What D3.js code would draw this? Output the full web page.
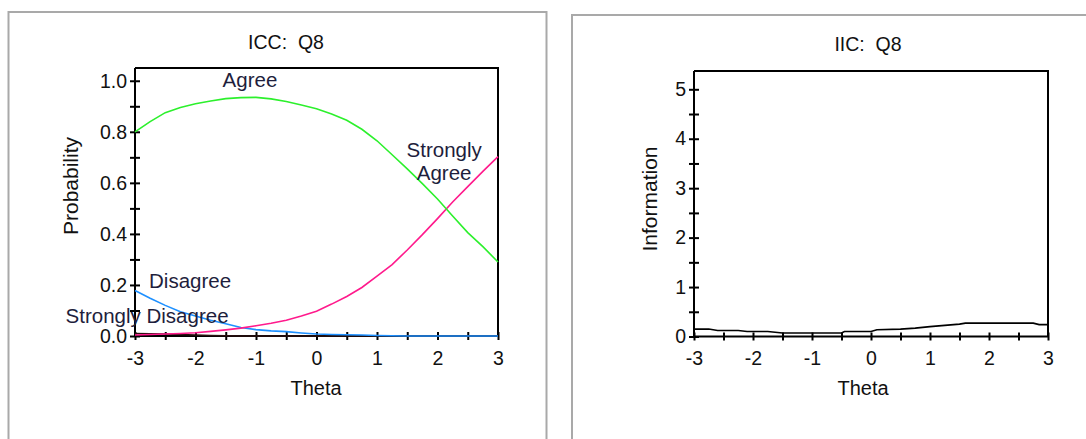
<!DOCTYPE html>
<html lang="en">
<head>
  <meta charset="UTF-8">
  <title>ICC / IIC: Q8</title>
  <script src="https://d3js.org/d3.v7.min.js"></script>
  <style>
    body {
      margin: 0;
      padding: 0;
      background: #fff;
    }
    svg text { font-family: 'Liberation Sans', Arial, sans-serif; }
    .axis path, .axis line { stroke: #000; stroke-width: 2px; }
    .curve-label { font-size: 20.5px; fill: #1e1e3c; }
    .title { font-size: 19.5px; fill: #111; white-space: pre; }
    .xlab { font-size: 20px; fill: #111; }
    .ylab { font-size: 21px; fill: #111; }
  </style>
</head>
<body>
  <div id="chart"></div>

  <script>
    // theta grid for the ICC curves
    const theta = [-3, -2.75, -2.5, -2.25, -2, -1.75, -1.5, -1.25, -1, -0.75, -0.5, -0.25,
                   0, 0.25, 0.5, 0.75, 1, 1.25, 1.5, 1.75, 2, 2.25, 2.5, 2.75, 3];

    const agree = [0.80, 0.84, 0.875, 0.895, 0.91, 0.921, 0.93, 0.934, 0.935, 0.929, 0.919, 0.905,
                   0.89, 0.87, 0.845, 0.81, 0.765, 0.71, 0.655, 0.597, 0.537, 0.47, 0.405, 0.35, 0.29];
    const stronglyAgree = [0.004, 0.006, 0.008, 0.01, 0.013, 0.018, 0.024, 0.031, 0.04, 0.05, 0.062, 0.078,
                   0.097, 0.125, 0.155, 0.19, 0.235, 0.28, 0.337, 0.397, 0.46, 0.525, 0.585, 0.645, 0.703];
    const disagree = [0.178, 0.148, 0.12, 0.095, 0.078, 0.062, 0.048, 0.033, 0.025, 0.02, 0.017, 0.012,
                   0.008, 0.006, 0.005, 0.004, 0.002, 0.001, 0, 0, 0, 0, 0, 0, 0];
    const stronglyDisagree = [0.01, 0.009, 0.008, 0.006, 0.004, 0.002, 0.001, 0, 0, 0, 0, 0,
                   0, 0, 0, 0, 0, 0, 0, 0, 0, 0, 0, 0, 0];

    // item information curve
    const iicTheta = [-3, -2.75, -2.6, -2.25, -2.1, -1.75, -1.5, -1, -0.5, -0.45, 0, 0.1, 0.5, 0.75,
                      1, 1.2, 1.5, 1.6, 2, 2.5, 2.75, 2.85, 3];
    const information = [0.15, 0.15, 0.12, 0.12, 0.1, 0.1, 0.07, 0.07, 0.07, 0.1, 0.1, 0.135, 0.15, 0.17,
                      0.2, 0.22, 0.25, 0.27, 0.27, 0.27, 0.27, 0.24, 0.24];

    const xTicks = [-3, -2, -1, 0, 1, 2, 3];
    const xMinor = [-2.5, -1.5, -0.5, 0.5, 1.5, 2.5];
    const iccTicks = [0, 0.2, 0.4, 0.6, 0.8, 1.0];
    const iccMinor = [0.1, 0.3, 0.5, 0.7, 0.9];
    const iicTicks = [0, 1, 2, 3, 4, 5];
    const iicMinor = [0.5, 1.5, 2.5, 3.5, 4.5];

    const W = 1086, H = 439;
    const svg = d3.select("#chart").append("svg")
      .attr("width", W).attr("height", H);

    // panel frames
    svg.append("rect").attr("x", 8.5).attr("y", 12).attr("width", 538).attr("height", 440)
      .attr("fill", "none").attr("stroke", "#a9a9a9").attr("stroke-width", 2);
    svg.append("rect").attr("x", 572).attr("y", 15).attr("width", 540).attr("height", 440)
      .attr("fill", "none").attr("stroke", "#a9a9a9").attr("stroke-width", 2);

    function drawAxes(g, x, y, yTicks, yMinor, yFmt) {
      const xAxis = g.append("g").attr("class", "axis")
        .attr("transform", `translate(0,${y.range()[0]})`)
        .call(d3.axisBottom(x).tickValues(xTicks.concat(xMinor)).tickSize(4).tickPadding(11)
          .tickFormat(d => xTicks.includes(d) ? d3.format("d")(d).replace("−", "-") : ""));
      xAxis.selectAll(".tick line").attr("y1", -4);
      xAxis.select(".domain").attr("d", `M${x.range()[0]},0H${x.range()[1]}`);

      const yAxis = g.append("g").attr("class", "axis")
        .attr("transform", `translate(${x.range()[0]},0)`)
        .call(d3.axisLeft(y).tickValues(yTicks.concat(yMinor)).tickSize(5).tickPadding(3)
          .tickFormat(d => yTicks.includes(d) ? yFmt(d) : ""));
      yAxis.selectAll(".tick line").attr("x1", 5);
      yAxis.select(".domain").attr("d", `M0,${y.range()[0]}V${y.range()[1]}`);

      g.selectAll(".axis .tick text")
        .attr("font-family", "'Liberation Sans', Arial, sans-serif")
        .attr("font-size", 19.5).attr("fill", "#111");

      // top and right frame
      g.append("path")
        .attr("d", `M${x.range()[0]},${y.range()[1]}H${x.range()[1]}V${y.range()[0]}`)
        .attr("fill", "none").attr("stroke", "#000").attr("stroke-width", 2);
    }

    // ---- ICC panel ----
    const x1 = d3.scaleLinear().domain([-3, 3]).range([135, 498]);
    const y1 = d3.scaleLinear().domain([0, 1.05]).range([336, 68]);
    const g1 = svg.append("g");
    drawAxes(g1, x1, y1, iccTicks, iccMinor, d3.format(".1f"));

    const line1 = d3.line().x((d, i) => x1(theta[i])).y(d => y1(d));
    const series = [
      { values: stronglyDisagree, color: "#2a1010" },
      { values: disagree, color: "#1e90ff" },
      { values: stronglyAgree, color: "#ff1a8c" },
      { values: agree, color: "#2cf02c" }
    ];
    g1.selectAll(".curve").data(series).enter().append("path")
      .attr("class", "curve")
      .attr("d", d => line1(d.values))
      .attr("fill", "none")
      .attr("stroke", d => d.color)
      .attr("stroke-width", 1.6);

    const labels = [
      { text: "Agree", x: -1.1, y: 1.003 },
      { text: "Strongly", x: 2.11, y: 0.729 },
      { text: "Agree", x: 2.11, y: 0.639 },
      { text: "Disagree", x: -2.09, y: 0.216 },
      { text: "Strongly Disagree", x: -2.8, y: 0.08 }
    ];
    g1.selectAll(".curve-label").data(labels).enter().append("text")
      .attr("class", "curve-label")
      .attr("x", d => x1(d.x)).attr("y", d => y1(d.y))
      .attr("text-anchor", "middle")
      .attr("dy", "0.35em")
      .text(d => d.text);

    g1.append("text").attr("class", "title").attr("x", 286).attr("y", 49)
      .attr("text-anchor", "middle").text("ICC:  Q8");
    g1.append("text").attr("class", "xlab").attr("x", 316).attr("y", 395)
      .attr("text-anchor", "middle").text("Theta");
    g1.append("text").attr("class", "ylab")
      .attr("transform", "translate(78,186) rotate(-90)")
      .attr("text-anchor", "middle").text("Probability");

    // ---- IIC panel ----
    const x2 = d3.scaleLinear().domain([-3, 3]).range([694, 1048]);
    const y2 = d3.scaleLinear().domain([0, 5.37]).range([336.5, 71]);
    const g2 = svg.append("g");
    drawAxes(g2, x2, y2, iicTicks, iicMinor, d3.format("d"));

    const line2 = d3.line().x((d, i) => x2(iicTheta[i])).y(d => y2(d));
    g2.append("path")
      .attr("d", line2(information))
      .attr("fill", "none").attr("stroke", "#000").attr("stroke-width", 1.6);

    g2.append("text").attr("class", "title").attr("x", 868).attr("y", 51)
      .attr("text-anchor", "middle").text("IIC:  Q8");
    g2.append("text").attr("class", "xlab").attr("x", 863).attr("y", 395)
      .attr("text-anchor", "middle").text("Theta");
    g2.append("text").attr("class", "ylab")
      .attr("transform", "translate(657,199) rotate(-90)")
      .attr("text-anchor", "middle").text("Information");
  </script>
</body>
</html>
